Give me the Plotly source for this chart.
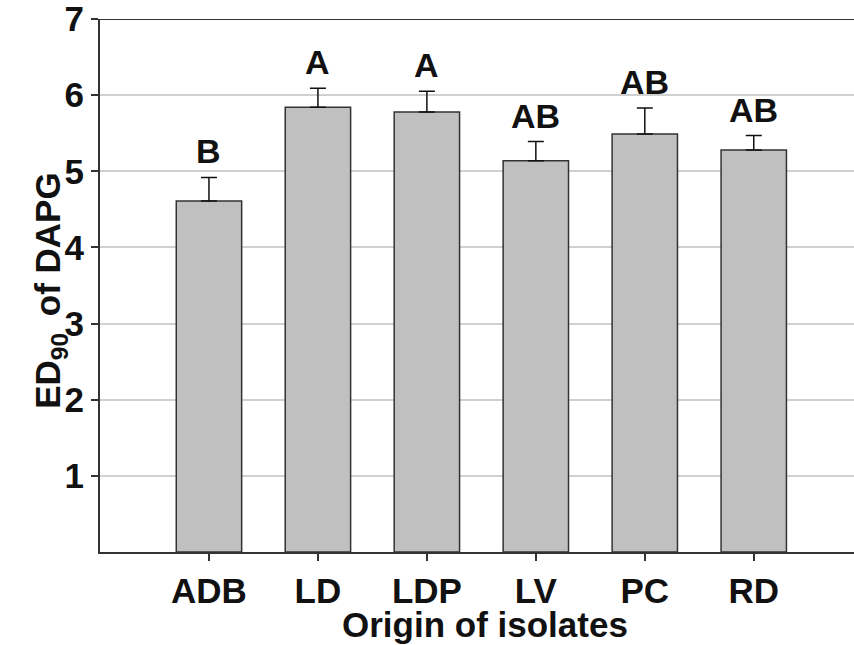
import plotly.graph_objects as go

# ED90 of DAPG by origin of isolates
origins = ["ADB", "LD", "LDP", "LV", "PC", "RD"]
ed90 = [4.61, 5.84, 5.78, 5.14, 5.49, 5.28]
ed90_err = [0.31, 0.25, 0.27, 0.25, 0.34, 0.19]
groups = ["B", "A", "A", "AB", "AB", "AB"]
y_ticks = [1, 2, 3, 4, 5, 6, 7]

FONT = "Liberation Sans, Arial, sans-serif"
BLACK = "#111111"
SIZE = 35

fig = go.Figure()
fig.add_trace(go.Bar(
    x=list(range(len(origins))),
    y=ed90,
    width=0.6,
    marker=dict(color="#c0c0c0", line=dict(color="#333333", width=1.5)),
    error_y=dict(type="data", array=ed90_err, arrayminus=[0] * len(ed90_err),
                 symmetric=False, color=BLACK, thickness=1.5, width=8),
    showlegend=False,
    hoverinfo="skip",
))

# significance letters above each error bar
for i, (v, e, g) in enumerate(zip(ed90, ed90_err, groups)):
    fig.add_annotation(x=i, y=v + e, text=f"<b>{g}</b>", showarrow=False,
                       yanchor="bottom", yshift=5,
                       font=dict(family=FONT, size=34, color=BLACK))

# dark frame line along the top of the plot area
fig.add_shape(type="line", xref="paper", yref="y", x0=0, x1=1,
              y0=max(y_ticks), y1=max(y_ticks),
              line=dict(color="#333333", width=2))

fig.update_layout(
    width=854, height=645,
    margin=dict(l=100, r=0, t=19, b=93),
    paper_bgcolor="white", plot_bgcolor="white",
    font=dict(family=FONT, color=BLACK),
    bargap=0.4,
)
fig.update_xaxes(
    range=[-1, 5.92],
    tickvals=list(range(len(origins))),
    ticktext=[f"<b>{o}</b>" for o in origins],
    tickfont=dict(family=FONT, size=SIZE, color=BLACK),
    ticks="outside", ticklen=7, tickwidth=1.5, tickcolor="#333333",
    showline=True, linecolor="#333333", linewidth=2,
    showgrid=False, zeroline=False,
)
fig.update_yaxes(
    range=[0, 7],
    tickvals=y_ticks,
    ticktext=[f"<b>{t}</b>" for t in y_ticks],
    tickfont=dict(family=FONT, size=SIZE, color=BLACK),
    ticklabeloverflow="allow",
    ticks="outside", ticklen=7, tickwidth=1.5, tickcolor="#333333",
    showline=True, linecolor="#333333", linewidth=2,
    showgrid=True, gridcolor="#d0d0d0", gridwidth=1.5,
    zeroline=False,
)

# axis titles
fig.add_annotation(xref="paper", yref="paper", x=0.51, y=0, yshift=-94,
                   yanchor="bottom", showarrow=False,
                   text="<b>Origin of isolates</b>",
                   font=dict(family=FONT, size=SIZE, color=BLACK))
fig.add_annotation(xref="paper", yref="paper", x=0, xshift=-74, y=0.49,
                   textangle=-90, showarrow=False,
                   text="<b>ED<sub>90</sub>\u2009 of DAPG</b>",
                   font=dict(family=FONT, size=SIZE, color=BLACK))

fig.write_html("out.html")
